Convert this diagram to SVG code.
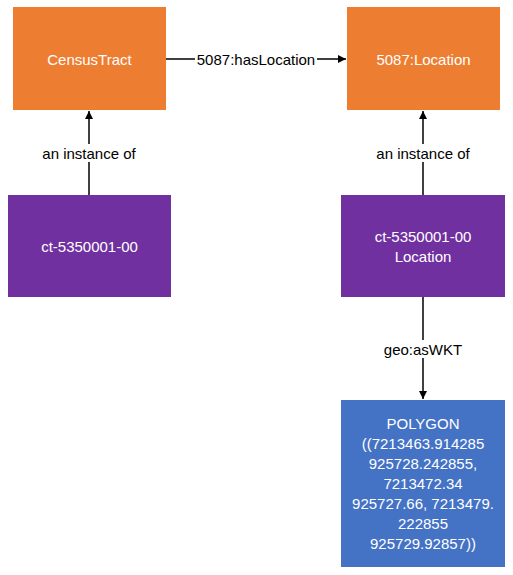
<svg xmlns="http://www.w3.org/2000/svg" width="513" height="575" viewBox="0 0 513 575">
<style>
.t{font-family:"Liberation Sans",Arial,sans-serif;font-size:15px;text-anchor:middle;dominant-baseline:central}
.w{fill:#ffffff}
.k{fill:#000000}
.or{fill:#ED7D31}
.pu{fill:#7030A0}
.bl{fill:#4472C4}
.ln{stroke:#000;stroke-width:1.5;fill:none}
.lb{fill:#ffffff}
</style>
<defs>
<marker id="ah" viewBox="0 0 10 10" refX="10" refY="5" markerWidth="8" markerHeight="8" markerUnits="userSpaceOnUse" orient="auto"><path d="M0,0 L10,5 L0,10 z" fill="#000"/></marker>
</defs>
<g id="connectors">
<line class="ln" x1="166" y1="59" x2="346" y2="59" marker-end="url(#ah)"/>
<rect class="lb" x="195" y="50" width="122" height="18"/>
<text class="t k" x="256" y="59">5087:hasLocation</text>
<line class="ln" x1="89" y1="195" x2="89" y2="111" marker-end="url(#ah)"/>
<rect class="lb" x="40" y="144" width="98" height="18"/>
<text class="t k" x="89" y="153">an instance of</text>
<line class="ln" x1="423" y1="195" x2="423" y2="111" marker-end="url(#ah)"/>
<rect class="lb" x="374" y="144" width="98" height="18"/>
<text class="t k" x="423" y="153">an instance of</text>
<line class="ln" x1="423" y1="297" x2="423" y2="399" marker-end="url(#ah)"/>
<rect class="lb" x="380" y="340" width="86" height="18"/>
<text class="t k" x="423" y="349">geo:asWKT</text>
</g>
<g id="censustract">
<rect class="or" x="13" y="7" width="153" height="103"/>
<text class="t w" x="89.5" y="59">CensusTract</text>
</g>
<g id="location">
<rect class="or" x="347" y="7" width="153" height="103"/>
<text class="t w" x="423.5" y="59">5087:Location</text>
</g>
<g id="ct">
<rect class="pu" x="8" y="195" width="163" height="102"/>
<text class="t w" x="89.5" y="246">ct-5350001-00</text>
</g>
<g id="ctloc">
<rect class="pu" x="341" y="195" width="164" height="102"/>
<text class="t w" x="423" y="236">ct-5350001-00</text>
<text class="t w" x="423" y="256">Location</text>
</g>
<g id="polygon">
<rect class="bl" x="341" y="400" width="164" height="167"/>
<text class="t w" x="423" y="423">POLYGON</text>
<text class="t w" x="423" y="443">((7213463.914285</text>
<text class="t w" x="423" y="463">925728.242855,</text>
<text class="t w" x="423" y="483">7213472.34</text>
<text class="t w" x="423" y="503">925727.66, 7213479.</text>
<text class="t w" x="423" y="523">222855</text>
<text class="t w" x="423" y="543">925729.92857))</text>
</g>
</svg>
